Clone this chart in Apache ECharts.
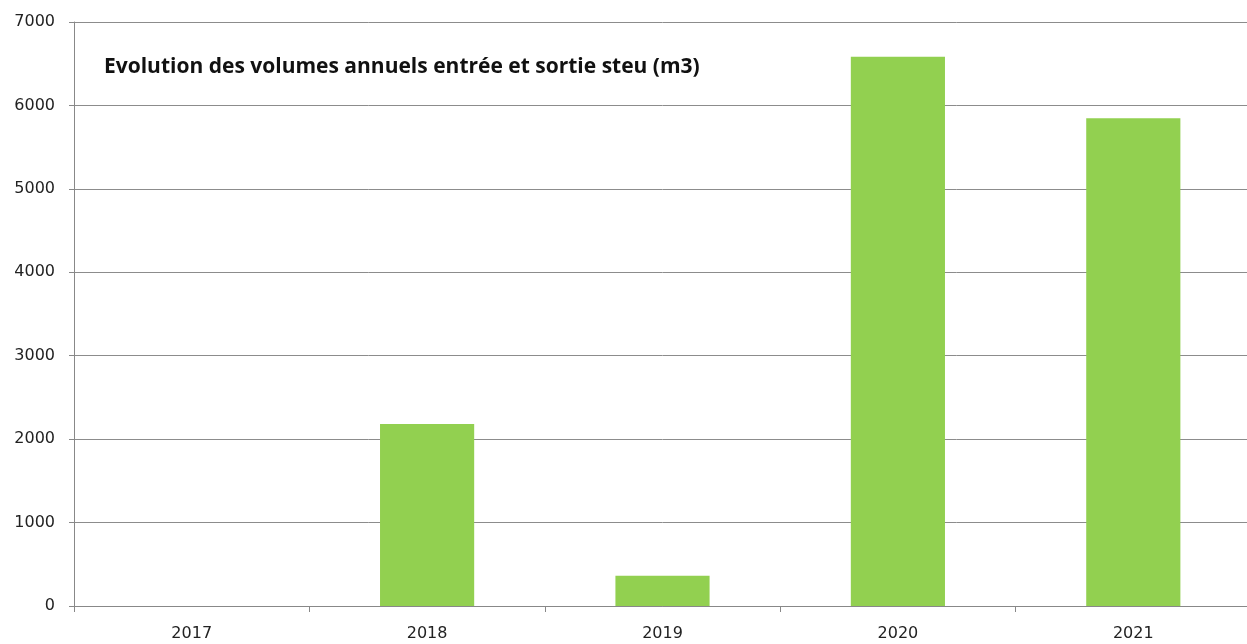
<!DOCTYPE html>
<html><head><meta charset="utf-8">
<script src="https://cdn.jsdelivr.net/npm/echarts@6/dist/echarts.min.js"></script>
<style>html,body{margin:0;padding:0;background:#fff;overflow:hidden;width:1247px;height:644px}#c{width:1251px;height:644px}</style>
</head><body><div id="c"></div>
<script>
const categories = ['2017', '2018', '2019', '2020', '2021'];
const volumes = [0, 2182, 364, 6583, 5845];
const yTicks = [0, 1000, 2000, 3000, 4000, 5000, 6000, 7000];
const titleText = 'Evolution des volumes annuels entrée et sortie steu (m3)';

const chart = echarts.init(document.getElementById('c'), null, {renderer: 'canvas'});
chart.setOption({
  animation: false,
  backgroundColor: '#fff',
  title: {
    text: titleText, left: 99, top: 52,
    textStyle: {fontFamily: 'Open Sans', fontWeight: 'bold', fontSize: 21, color: '#111'}
  },
  grid: {left: 74, right: 0, top: 22, bottom: 38, containLabel: false},
  xAxis: {
    type: 'category', data: categories,
    axisLine: {lineStyle: {color: '#888', width: 1}},
    axisTick: {show: true, alignWithLabel: false, length: 6, lineStyle: {color: '#888'}},
    axisLabel: {color: '#222', fontFamily: 'DejaVu Sans', fontSize: 16, margin: 20}
  },
  yAxis: {
    type: 'value', min: yTicks[0], max: yTicks[yTicks.length - 1], interval: 1000,
    axisLine: {show: true, lineStyle: {color: '#888', width: 1}},
    axisTick: {show: true, inside: false, length: 5, lineStyle: {color: '#888'}},
    axisLabel: {color: '#222', fontFamily: 'DejaVu Sans', fontSize: 16, margin: 19,
      formatter: v => String(v)},
    splitLine: {lineStyle: {color: '#8c8c8c', width: 1}}
  },
  series: [{
    type: 'bar', data: volumes, barWidth: '40%',
    itemStyle: {color: '#92d050'}
  }]
});
</script></body></html>
